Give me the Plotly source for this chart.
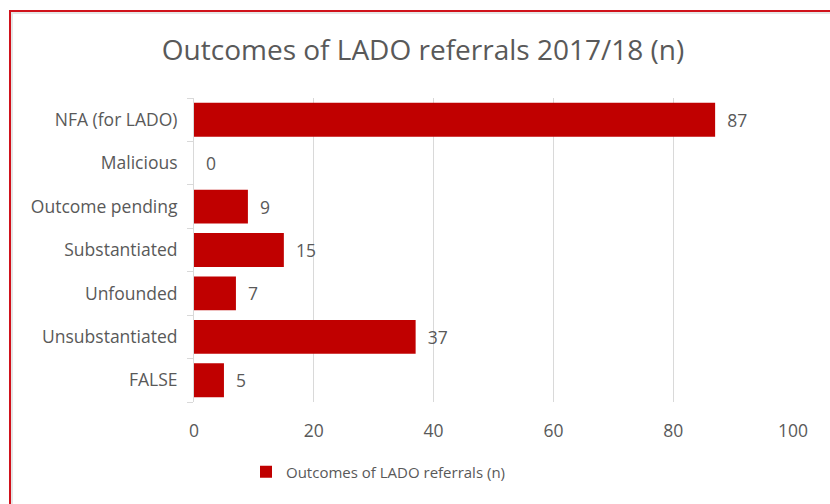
import plotly.graph_objects as go

# Outcome categories, top to bottom as shown
categories = ["NFA (for LADO)", "Malicious", "Outcome pending", "Substantiated",
              "Unfounded", "Unsubstantiated", "FALSE"]
counts = [87, 0, 9, 15, 7, 37, 5]
x_ticks = [0, 20, 40, 60, 80, 100]

series_name = "Outcomes of LADO referrals (n)"
title_text = "Outcomes of LADO referrals 2017/18 (n)"

BAR_RED = "#c00000"
TEXT_GREY = "#595959"
GRID_GREY = "#d9d9d9"
FONT = "'Open Sans', Lato, sans-serif"

W, H = 830, 504
L, R, T, B = 194, 37, 98, 102
pw, ph = W - L - R, H - T - B


def px_to_paper_x(px):
    return (px - L) / pw


def px_to_paper_y(py):
    return (H - B - py) / ph


fig = go.Figure()
fig.add_trace(go.Bar(
    y=categories,
    x=counts,
    orientation="h",
    name=series_name,
    marker=dict(color=BAR_RED, line=dict(width=0)),
    text=["\u00a0\u00a0" + str(v) for v in counts],
    textposition="outside",
    textfont=dict(family=FONT, size=17.5, color=TEXT_GREY),
    cliponaxis=False,
    showlegend=True,
))

# outer frame with its soft inner shadow
fig.add_shape(type="rect", xref="paper", yref="paper",
              x0=px_to_paper_x(12), x1=px_to_paper_x(840),
              y0=px_to_paper_y(520), y1=px_to_paper_y(13),
              line=dict(color="#e6e6e6", width=2), layer="below")
fig.add_shape(type="rect", xref="paper", yref="paper",
              x0=px_to_paper_x(10), x1=px_to_paper_x(840),
              y0=px_to_paper_y(520), y1=px_to_paper_y(11),
              line=dict(color="#d0121b", width=2), layer="below")

fig.update_layout(
    width=W, height=H,
    margin=dict(l=L, r=R, t=T, b=B, pad=0),
    paper_bgcolor="white",
    plot_bgcolor="white",
    bargap=0.22,
    title=dict(text=title_text, x=423 / W, xref="container", xanchor="center",
               y=1 - 50 / H, yref="container", yanchor="middle",
               font=dict(family=FONT, size=28, color=TEXT_GREY)),
    xaxis=dict(range=[0, 100], tickvals=x_ticks, showgrid=True,
               gridcolor=GRID_GREY, gridwidth=1, zeroline=False,
               showline=False, ticks="",
               tickfont=dict(family=FONT, size=17.5, color=TEXT_GREY),
               ticklabelstandoff=16, fixedrange=True),
    yaxis=dict(categoryorder="array", categoryarray=categories[::-1],
               autorange=False, range=[-0.5, len(categories) - 0.5],
               showline=True, linecolor=GRID_GREY, linewidth=1,
               ticks="outside", tickson="boundaries", ticklen=6,
               tickcolor=GRID_GREY, showgrid=False,
               tickfont=dict(family=FONT, size=17.5, color=TEXT_GREY),
               ticklabelstandoff=12, fixedrange=True),
    legend=dict(orientation="h", x=px_to_paper_x(246), xanchor="left",
                y=px_to_paper_y(472), yanchor="middle",
                font=dict(family=FONT, size=15, color=TEXT_GREY),
                itemwidth=30, bgcolor="rgba(0,0,0,0)"),
)

fig.write_html("out.html")
